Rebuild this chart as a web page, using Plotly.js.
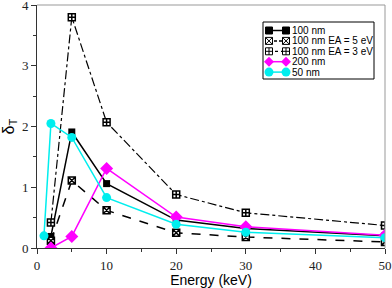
<!DOCTYPE html>
<html>
<head>
<meta charset="utf-8">
<script src="https://cdn.plot.ly/plotly-3.0.1.min.js"></script>
<style>html,body{margin:0;padding:0;background:#fff;}#chart{width:392px;height:288px;}</style>
</head>
<body>
<div id="chart"></div>
<script>
const energy = [2, 5, 10, 20, 30, 50];
const energy50 = [1, 2, 5, 10, 20, 30, 50];
const nm100 = [0.19, 1.91, 1.06, 0.46, 0.32, 0.20];
const nm100EA5 = [0.12, 1.11, 0.62, 0.25, 0.18, 0.10];
const nm100EA3 = [0.42, 3.80, 2.07, 0.88, 0.58, 0.37];
const nm200 = [0.0, 0.19, 1.31, 0.51, 0.35, 0.21];
const nm50 = [0.20, 2.05, 1.82, 0.83, 0.39, 0.26, 0.17];
const names = ["100 nm", "100 nm EA = 5 eV", "100 nm EA = 3 eV", "200 nm", "50 nm"];

const styles = [
  {color: "#000", dash: "solid", lw: 1.5, sym: "square", size: 7, fill: "#000"},
  {color: "#000", dash: "dash", lw: 1.5, sym: "square-x", size: 7, fill: "#fff"},
  {color: "#000", dash: "dashdot", lw: 1.2, sym: "square-cross", size: 7, fill: "#fff"},
  {color: "#ff00ff", dash: "solid", lw: 1.5, sym: "diamond", size: 10, fill: "#ff00ff"},
  {color: "#00eeee", dash: "solid", lw: 1.5, sym: "circle", size: 9, fill: "#00eeee"}
];
const xs = [energy, energy, energy, energy, energy50];
const ys = [nm100, nm100EA5, nm100EA3, nm200, nm50];

const traces = ys.map((y, i) => ({
  x: xs[i], y: y, name: names[i], mode: "lines+markers", showlegend: false,
  line: {color: styles[i].color, width: styles[i].lw, dash: styles[i].dash},
  marker: {symbol: styles[i].sym, size: styles[i].size, color: styles[i].fill,
           line: {color: styles[i].color, width: styles[i].fill === "#fff" ? 1.5 : 0}}
}));

// plot area in pixels
const M = {l: 37, r: 7, t: 5, b: 40};
const W = 392, H = 288;
const pw = W - M.l - M.r, ph = H - M.t - M.b;
const px = x => (x - M.l) / pw;
const py = y => (H - M.b - y) / ph;

// custom compact legend (box, glyphs, labels)
const shapes = [
  {type: "line", xref: "paper", yref: "paper", x0: 0, x1: 1, y0: 1, y1: 1, line: {color: "#999", width: 1}},
  {type: "line", xref: "paper", yref: "paper", x0: 1, x1: 1, y0: 0, y1: 1, line: {color: "#999", width: 1}},
  {type: "rect", xref: "paper", yref: "paper", x0: px(263), x1: px(374), y0: py(22), y1: py(79),
   line: {color: "#000", width: 1}, fillcolor: "#fff", layer: "above"}
];
const annotations = [];
const L = {x0: 269, x1: 286, tx: 291, y0: 30.5, dy: 10.4};
names.forEach((n, i) => {
  const s = styles[i];
  const cy = L.y0 + i * L.dy;
  shapes.push({type: "line", xref: "paper", yref: "paper", x0: px(L.x0), x1: px(L.x1), y0: py(cy), y1: py(cy),
    line: {color: s.color, width: s.lw, dash: s.dash === "solid" ? "solid" : (s.dash === "dash" ? "3px,2px" : "dot")}, layer: "above"});
  [L.x0, L.x1].forEach(cx => {
    const h = s.size / 2;
    if (s.sym === "circle") {
      shapes.push({type: "circle", xref: "paper", yref: "paper", x0: px(cx - h), x1: px(cx + h), y0: py(cy + h), y1: py(cy - h),
        fillcolor: s.fill, line: {width: 0}, layer: "above"});
    } else if (s.sym === "diamond") {
      const d = `M${px(cx - h)},${py(cy)} L${px(cx)},${py(cy - h)} L${px(cx + h)},${py(cy)} L${px(cx)},${py(cy + h)} Z`;
      shapes.push({type: "path", xref: "paper", yref: "paper", path: d, fillcolor: s.fill, line: {width: 0}, layer: "above"});
    } else {
      shapes.push({type: "rect", xref: "paper", yref: "paper", x0: px(cx - h), x1: px(cx + h), y0: py(cy + h), y1: py(cy - h),
        fillcolor: s.fill, line: {color: "#000", width: 1}, layer: "above"});
      if (s.sym === "square-x") {
        shapes.push({type: "path", xref: "paper", yref: "paper", layer: "above", line: {color: "#000", width: 1},
          path: `M${px(cx - h)},${py(cy + h)} L${px(cx + h)},${py(cy - h)} M${px(cx - h)},${py(cy - h)} L${px(cx + h)},${py(cy + h)}`});
      } else if (s.sym === "square-cross") {
        shapes.push({type: "path", xref: "paper", yref: "paper", layer: "above", line: {color: "#000", width: 1},
          path: `M${px(cx - h)},${py(cy)} L${px(cx + h)},${py(cy)} M${px(cx)},${py(cy - h)} L${px(cx)},${py(cy + h)}`});
      }
    }
  });
  annotations.push({xref: "paper", yref: "paper", x: px(L.tx), y: py(cy), xanchor: "left", yanchor: "middle",
    text: n, showarrow: false, borderpad: 0, font: {family: "Liberation Sans", size: 10, color: "#000"}});
});

const tickFont = {family: "Liberation Serif", size: 13, color: "#222"};
const titleFontFamily = "Liberation Sans";
const layout = {
  width: W, height: H,
  margin: M,
  paper_bgcolor: "#fff", plot_bgcolor: "#fff",
  showlegend: false,
  xaxis: {
    range: [0, 50], dtick: 10, tick0: 0,
    ticks: "outside", ticklen: 5, tickcolor: "#333", tickwidth: 1,
    minor: {ticks: "outside", dtick: 5, ticklen: 3, tickcolor: "#333"},
    showgrid: false, zeroline: false,
    showline: true, linecolor: "#333", linewidth: 1,
    tickfont: tickFont, ticklabeloverflow: "allow",
    title: {text: "Energy (keV)", font: {family: titleFontFamily, size: 14, color: "#000"}, standoff: 0}
  },
  yaxis: {
    range: [0, 4], dtick: 1, tick0: 0,
    ticks: "outside", ticklen: 5, tickcolor: "#333", tickwidth: 1,
    minor: {ticks: "outside", dtick: 0.5, ticklen: 3, tickcolor: "#333"},
    showgrid: false, zeroline: false,
    showline: true, linecolor: "#333", linewidth: 1,
    tickfont: tickFont, ticklabeloverflow: "allow",
    title: {text: "δ<sub>T</sub>", font: {family: titleFontFamily, size: 16, color: "#000"}, standoff: 4}
  },
  shapes: shapes,
  annotations: annotations
};

Plotly.newPlot("chart", traces, layout, {displayModeBar: false, staticPlot: true});
</script>
</body>
</html>
